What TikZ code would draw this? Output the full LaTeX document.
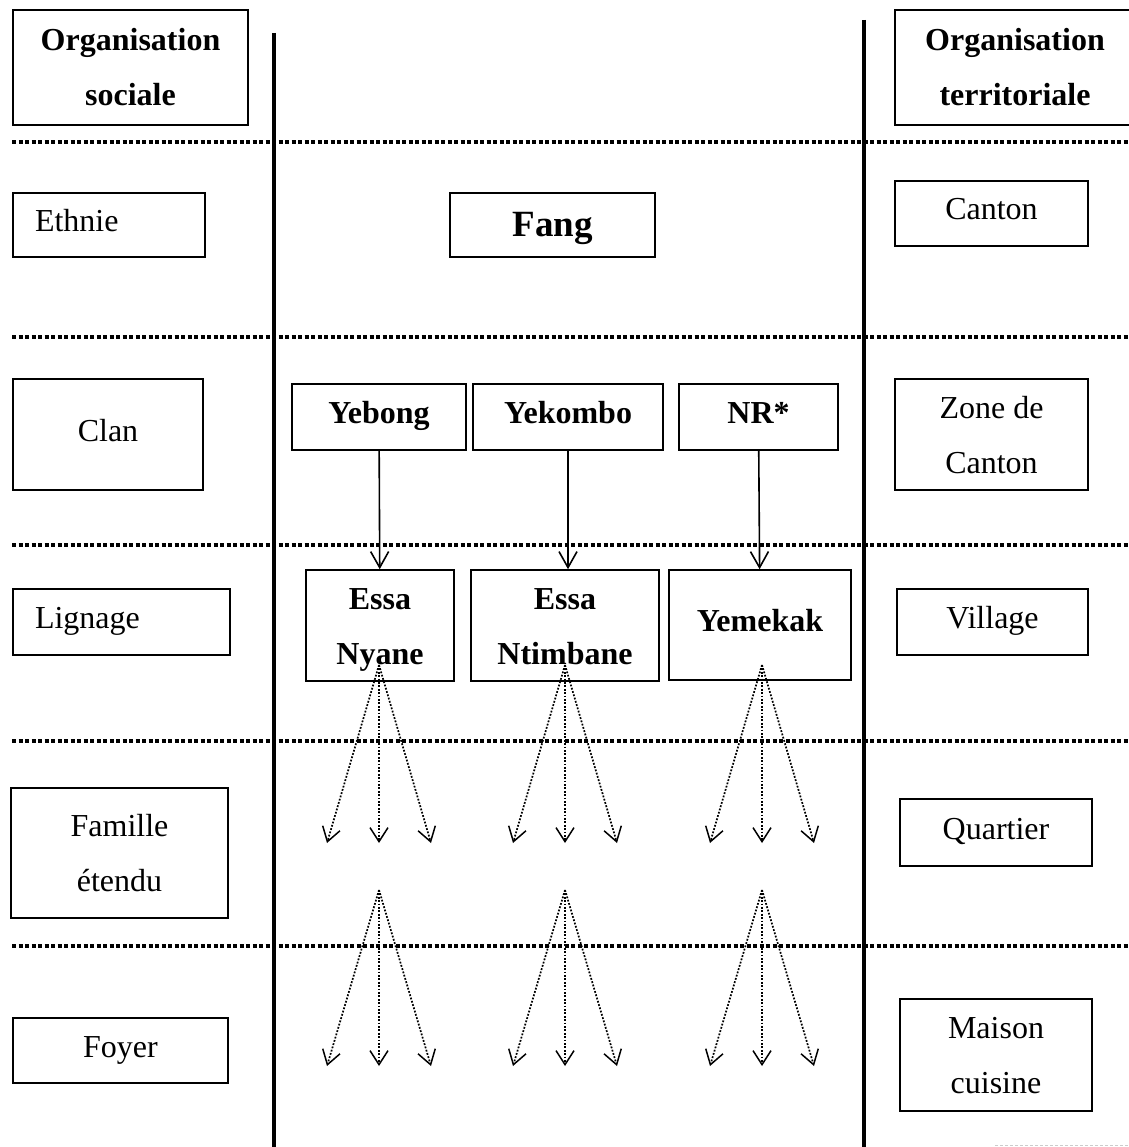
\documentclass[tikz,border=0pt]{standalone}
\usepackage{fontspec}
\setmainfont{Liberation Serif}
\usetikzlibrary{arrows.meta}

\begin{document}
\begin{tikzpicture}[x=1pt,y=-1pt,
  box/.style={draw,line width=1.6pt,inner sep=0pt,align=center,font=\fontsize{32}{55}\selectfont},
  single/.style={text height=34pt,text depth=21pt},
  boldbox/.style={box,font=\fontsize{32}{55}\selectfont\bfseries},
  leftbox/.style={box,single,align=left,inner xsep=22pt},
  sep/.style={line width=3.6pt,dash pattern=on 4pt off 2.5pt},
  wall/.style={line width=4pt},
  solidarrow/.style={line width=1.6pt,-{Straight Barb[length=16pt,width=18pt,line width=1.6pt]}},
  dotarrow/.style={line width=1.7pt,dash pattern=on 1.8pt off 1.6pt,-{Straight Barb[length=14pt,width=18pt,line width=1.5pt]}}]

  \useasboundingbox (0,0) rectangle (1128,1147);

  % Column walls
  \draw[wall] (274,33) -- (274,1147);
  \draw[wall] (864,20) -- (864,1147);

  % Level separators
  \foreach \y in {142,337,545,741,946}
    \draw[sep] (12,\y) -- (1128,\y);

  % Headers
  \node[boldbox,minimum width=235pt,minimum height=115pt] (orgsoc) at (130.5,67.5) {\strut Organisation\\\strut sociale};
  \node[boldbox,minimum width=240pt,minimum height=115pt] (orgterr) at (1015,67.5) {\strut Organisation\\\strut territoriale};

  % Social levels
  \node[leftbox,text width=148pt,minimum height=64pt] (ethnie) at (109,225) {Ethnie};
  \node[box,single,minimum width=190pt,minimum height=111pt] (clan) at (108,434.5) {Clan};
  \node[leftbox,text width=173pt,minimum height=66pt] (lignage) at (121.5,622) {Lignage};
  \node[box,minimum width=217pt,minimum height=130pt] (famille) at (119.5,853) {\strut Famille\\\strut étendu};
  \node[box,single,minimum width=215pt,minimum height=65pt] (foyer) at (120.5,1050.5) {Foyer};

  % Territorial levels
  \node[box,single,minimum width=193pt,minimum height=65pt] (canton) at (991.5,213.5) {Canton};
  \node[box,minimum width=193pt,minimum height=111pt] (zone) at (991.5,434.5) {\strut Zone de\\\strut Canton};
  \node[box,single,minimum width=191pt,minimum height=66pt] (village) at (992.5,622) {Village};
  \node[box,single,minimum width=192pt,minimum height=67pt] (quartier) at (996,832.5) {Quartier};
  \node[box,minimum width=192pt,minimum height=112pt] (maison) at (996,1055) {\strut Maison\\\strut cuisine};

  % Ethnic group
  \node[box,minimum width=205pt,minimum height=64pt,text height=40pt,text depth=16pt,
        font=\fontsize{37}{44}\selectfont\bfseries] (fang) at (552.5,225) {Fang};

  % Clans
  \node[boldbox,single,minimum width=174pt,minimum height=66pt] (yebong) at (379,417) {Yebong};
  \node[boldbox,single,minimum width=190pt,minimum height=66pt] (yekombo) at (568,417) {Yekombo};
  \node[boldbox,single,minimum width=159pt,minimum height=66pt] (nr) at (758.5,417) {NR*};

  % Lineages
  \node[boldbox,minimum width=148pt,minimum height=111pt] (nyane) at (380,625.5) {\strut Essa\\\strut Nyane};
  \node[boldbox,minimum width=188pt,minimum height=111pt] (ntimbane) at (565,625.5) {\strut Essa\\\strut Ntimbane};
  \node[boldbox,single,minimum width=182pt,minimum height=110pt] (yemekak) at (760,625) {Yemekak};

  \draw[solidarrow] (yebong) -- (nyane);
  \draw[solidarrow] (yekombo.south) -- (yekombo.south |- ntimbane.north);
  \draw[solidarrow] (nr) -- (yemekak);

  % Families and households
  \foreach \x [count=\i] in {379,565,762}{
    \coordinate (src\i) at (\x,665);
    \coordinate (mid\i) at (\x,890);
    \foreach \d [count=\j] in {-52,0,52}{
      \coordinate (fam\i\j) at (\x+\d,843);
      \coordinate (foy\i\j) at (\x+\d,1066);
      \draw[dotarrow] (src\i) -- (fam\i\j);
      \draw[dotarrow] (mid\i) -- (foy\i\j);
    }
  }

  % faint trace at the bottom
  \draw[gray!40,line width=1pt,dash pattern=on 3pt off 2pt] (995,1145) -- (1128,1145);
\end{tikzpicture}
\end{document}
